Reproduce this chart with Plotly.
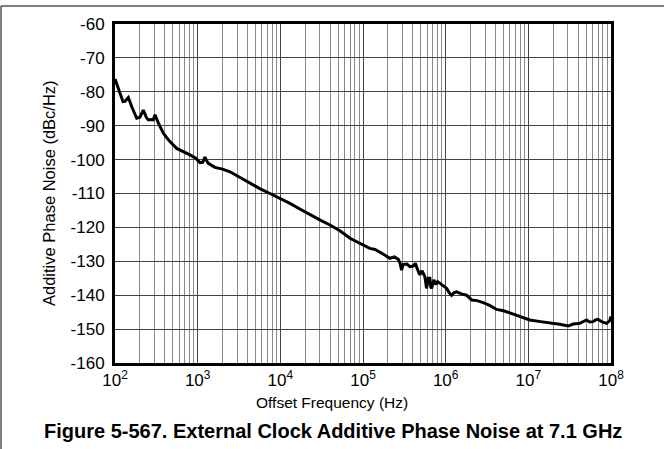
import plotly.graph_objects as go

# Data
freq_hz = [100, 112, 125, 132, 145, 160, 183, 200, 220, 240, 253, 270, 290, 305, 330, 384, 450, 557,
           650, 807, 950, 1066, 1150, 1225, 1280, 1343, 1618, 2000, 2460, 3200, 4290, 5500, 7480,
           10000, 13060, 17000, 22800, 30000, 39800, 52500, 69500, 90000, 121000, 140000, 160000,
           185000, 211000, 240000, 267000, 280000, 293000, 306000, 340000, 370000, 405000, 430000,
           452000, 470000, 487000, 520000, 560000, 575000, 587000, 615000, 644000, 660000, 675000,
           720000, 760000, 800000, 850000, 930000, 1030000, 1100000, 1180000, 1270000, 1350000,
           1550000, 1790000, 2060000, 2400000, 2840000, 3400000, 4130000, 5000000, 5970000,
           7800000, 10400000, 14000000, 18200000, 24000000, 30300000, 34800000, 42000000, 50600000,
           55000000, 60700000, 65000000, 69800000, 78000000, 88300000, 96600000, 100000000]
noise_dbc = [-76.2, -79.5, -82.9, -82.8, -81.7, -84.5, -87.8, -87.5, -85.4, -87.6, -88.3, -88.2, -88.3,
             -86.8, -88.9, -92.2, -94.4, -96.7, -97.4, -98.6, -99.6, -100.9, -100.8, -99.3, -100.3,
             -101.1, -102.3, -102.8, -103.6, -105.2, -107.0, -108.4, -110.0, -111.4, -112.9, -114.5,
             -116.3, -117.8, -119.3, -121.0, -123.2, -124.6, -126.2, -126.5, -127.2, -128.2, -129.1,
             -128.7, -129.4, -130.5, -132.6, -130.9, -130.8, -131.6, -131.4, -130.6, -132.1, -133.2,
             -134.0, -132.8, -134.5, -136.4, -138.0, -135.0, -135.0, -137.5, -138.0, -135.5, -136.8,
             -136.0, -136.5, -137.4, -138.0, -139.2, -140.0, -139.2, -139.0, -139.6, -140.0, -141.4,
             -141.6, -142.2, -143.0, -144.2, -144.6, -145.2, -146.3, -147.3, -147.8, -148.1, -148.6,
             -149.1, -148.5, -148.3, -147.3, -147.9, -147.8, -147.3, -147.1, -147.9, -148.3, -147.5, -146.3]

x_tick_vals = [1e2, 1e3, 1e4, 1e5, 1e6, 1e7, 1e8]
x_tick_text = ["10<sup>2</sup>", "10<sup>3</sup>", "10<sup>4</sup>", "10<sup>5</sup>",
               "10<sup>6</sup>", "10<sup>7</sup>", "10<sup>8</sup>"]
y_tick_vals = [-60, -70, -80, -90, -100, -110, -120, -130, -140, -150, -160]
y_tick_text = ["-60", "-70", "-80", "-90", "-100", "-110", "-120", "-130", "-140", "-150", "-160"]
minor_vals = [m * 10 ** e for e in range(2, 8) for m in range(2, 10)]

x_title = "Offset Frequency (Hz)"
y_title = "Additive Phase Noise (dBc/Hz)"
caption = "Figure 5-567. External Clock Additive Phase Noise at 7.1 GHz"

fig = go.Figure()
fig.add_trace(go.Scatter(x=freq_hz, y=noise_dbc, mode="lines",
                         line=dict(color="black", width=3), showlegend=False))

font_family = "Liberation Sans, Arial, sans-serif"
W, H = 664, 449
L, R, T, B = 115, 611, 24, 363
pw, ph = R - L, B - T


def px(xp):
    return (xp - L) / pw


def py(yp):
    return (B - yp) / ph


fig.update_layout(
    width=W, height=H,
    margin=dict(l=L, r=W - R, t=T, b=H - B),
    paper_bgcolor="white", plot_bgcolor="white",
    font=dict(family=font_family, color="black", size=15),
    xaxis=dict(
        type="log", range=[2, 8],
        tickvals=x_tick_vals, ticktext=x_tick_text,
        tickfont=dict(size=17), ticks="",
        showgrid=True, gridcolor="#444444", gridwidth=1,
        minor=dict(tickvals=minor_vals, showgrid=True, gridcolor="#8a8a8a", gridwidth=1, ticks=""),
        showline=True, linecolor="black", linewidth=3, mirror=True,
        zeroline=False,
    ),
    yaxis=dict(
        range=[-160, -60],
        tickvals=y_tick_vals, ticktext=y_tick_text,
        tickfont=dict(size=17), ticks="", ticklabelstandoff=4,
        showgrid=True, gridcolor="#444444", gridwidth=1,
        showline=True, linecolor="black", linewidth=3, mirror=True,
        zeroline=False,
    ),
    annotations=[
        dict(text=x_title, xref="paper", yref="paper", x=px(332), y=py(403),
             xanchor="center", yanchor="middle", showarrow=False,
             font=dict(size=15.5, family=font_family, color="black")),
        dict(text=y_title, xref="paper", yref="paper", x=px(49), y=py(193),
             xanchor="center", yanchor="middle", showarrow=False, textangle=-90,
             font=dict(size=16.5, family=font_family, color="black")),
        dict(text="<b>" + caption + "</b>", xref="paper", yref="paper",
             x=px(333), y=py(431), xanchor="center", yanchor="middle", showarrow=False,
             font=dict(size=20, family=font_family, color="black")),
    ],
    shapes=[
        dict(type="line", xref="paper", yref="paper",
             x0=px(1), x1=px(W), y0=py(6), y1=py(6),
             line=dict(color="#555555", width=1.5)),
        dict(type="line", xref="paper", yref="paper",
             x0=px(1), x1=px(1), y0=py(6), y1=py(H),
             line=dict(color="#555555", width=1.5)),
    ],
)

fig.write_html("out.html", config={"displayModeBar": False},
               post_script="document.body.style.margin='0';document.body.style.overflow='hidden';")
